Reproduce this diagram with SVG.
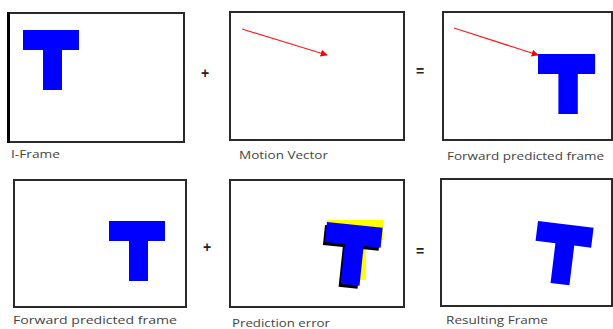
<svg xmlns="http://www.w3.org/2000/svg" width="613" height="329" viewBox="0 0 613 329">
<style>
.frame{fill:#fff;stroke:#2a2a2a;stroke-width:2}
.lbl{font-family:"Open Sans","Liberation Sans",sans-serif;font-size:11.5px;fill:#444}
.op{font-family:"Liberation Sans",sans-serif;font-size:14px;font-weight:bold;fill:#222;text-anchor:middle}
.mv{stroke:#ff2020;stroke-width:1.2;fill:none}
</style>
<defs>
<marker id="ah" viewBox="0 0 10 10" refX="9" refY="5" markerWidth="7" markerHeight="7" orient="auto" markerUnits="userSpaceOnUse">
<path d="M0,0 L10,5 L0,10 z" fill="#ff0000"/>
</marker>
<polygon id="T" points="0,0 56,0 56,20 39,20 39,60 20,60 20,20 0,20"/>
</defs>

<g id="iframe">
<rect class="frame" x="9" y="13" width="175" height="129" stroke="#666"/>
<rect x="7" y="12" width="3" height="131" fill="#000"/>
<use href="#T" x="23" y="30" fill="#0000ff"/>
<text class="lbl" x="11" y="158" textLength="49" lengthAdjust="spacingAndGlyphs">I-Frame</text>
</g>

<text class="op" x="205" y="78">+</text>

<g id="motion-vector">
<rect class="frame" x="230" y="12" width="174" height="128"/>
<text class="lbl" x="239" y="159" textLength="89" lengthAdjust="spacingAndGlyphs">Motion Vector</text>
</g>

<text class="op" x="420" y="76">=</text>

<g id="forward-predicted-1">
<rect class="frame" x="443" y="12" width="169" height="128"/>
<use href="#T" x="538" y="54" fill="#0000ff" transform="translate(538,54) scale(1.02,1) translate(-538,-54)"/>
<text class="lbl" x="447" y="160" textLength="157" lengthAdjust="spacingAndGlyphs">Forward predicted frame</text>
</g>

<g id="forward-predicted-2">
<rect class="frame" x="14" y="180" width="172" height="127"/>
<use href="#T" x="109" y="221" fill="#0000ff"/>
<text class="lbl" x="13" y="324" textLength="164" lengthAdjust="spacingAndGlyphs">Forward predicted frame</text>
</g>

<text class="op" x="207" y="252">+</text>

<g id="prediction-error">
<rect class="frame" x="230" y="180" width="174" height="127"/>
<use href="#T" fill="#ffff00" transform="translate(327,220)"/>
<use href="#T" fill="#000" transform="translate(325,225) rotate(6)"/>
<use href="#T" fill="#0000ff" transform="translate(327,222) rotate(6)"/>
<text class="lbl" x="232" y="327" textLength="98" lengthAdjust="spacingAndGlyphs">Prediction error</text>
</g>

<text class="op" x="420" y="256">=</text>

<g id="resulting-frame">
<rect class="frame" x="441" y="179" width="171" height="127"/>
<use href="#T" fill="#0000ff" transform="translate(538,221) rotate(7)"/>
<text class="lbl" x="446" y="324" textLength="102" lengthAdjust="spacingAndGlyphs">Resulting Frame</text>
</g>

<g id="connectors">
<line class="mv" x1="242" y1="29" x2="327" y2="55" marker-end="url(#ah)"/>
<line class="mv" x1="454" y1="28" x2="538" y2="55" marker-end="url(#ah)"/>
</g>
</svg>
